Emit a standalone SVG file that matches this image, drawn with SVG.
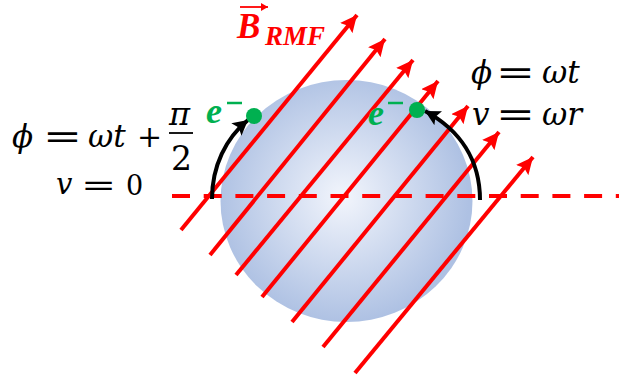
<svg xmlns="http://www.w3.org/2000/svg" width="619" height="377" viewBox="0 0 619 377">
<style>
.m{font-family:"DejaVu Serif","Liberation Serif",serif;font-style:italic;fill:#000}
.n{font-family:"DejaVu Serif","Liberation Serif",serif;font-style:normal;fill:#000}
.g{font-family:"Liberation Serif",serif;font-style:italic;font-weight:bold;fill:#00B050}
.r{font-family:"Liberation Serif",serif;font-style:italic;font-weight:bold;fill:#FF0000}
.field{stroke:#FF0000;stroke-width:4;fill:none}
.arc{stroke:#000;stroke-width:4;fill:none}
</style>
<defs>
<radialGradient id="sph" cx="343" cy="197" r="126" gradientUnits="userSpaceOnUse">
<stop offset="0" stop-color="#F2F5FC"/>
<stop offset="1" stop-color="#AEC1E3"/>
</radialGradient>
<marker id="ra" markerUnits="userSpaceOnUse" markerWidth="18" markerHeight="16" refX="17" refY="8" orient="auto">
<path d="M0,0 L17,8 L0,16 L3,8 z" fill="#FF0000"/>
</marker>
<marker id="ka" markerUnits="userSpaceOnUse" markerWidth="16" markerHeight="16" refX="15" refY="8" orient="auto">
<path d="M0,0 L15,8 L0,16 L3,8 z" fill="#000"/>
</marker>
<marker id="sa" markerUnits="userSpaceOnUse" markerWidth="8" markerHeight="8" refX="7" refY="4" orient="auto">
<path d="M0,0 L7,4 L0,8 z" fill="#FF0000"/>
</marker>
</defs>
<g id="sphere">
<ellipse cx="346.5" cy="201" rx="126" ry="121" fill="url(#sph)"/>
</g>
<g id="axis">
<line x1="172" y1="196" x2="619" y2="196" stroke="#FF0000" stroke-width="4" stroke-dasharray="18 13.7"/>
</g>
<g id="connectors">
<line class="field" x1="181" y1="230" x2="357" y2="15" marker-end="url(#ra)"/>
<line class="field" x1="210" y1="255" x2="385" y2="39" marker-end="url(#ra)"/>
<line class="field" x1="236" y1="275" x2="413" y2="60" marker-end="url(#ra)"/>
<line class="field" x1="262" y1="297" x2="438" y2="81" marker-end="url(#ra)"/>
<line class="field" x1="292" y1="322" x2="468" y2="106" marker-end="url(#ra)"/>
<line class="field" x1="323" y1="347" x2="499" y2="132" marker-end="url(#ra)"/>
<line class="field" x1="355" y1="373" x2="533" y2="157" marker-end="url(#ra)"/>
<path class="arc" d="M212,199 C212,166 226,138 248,120" marker-end="url(#ka)"/>
<path class="arc" d="M480,200 C480,160 460,130 425,111" marker-end="url(#ka)"/>
</g>
<g id="electron-left">
<circle cx="254" cy="116" r="8" fill="#00B050"/>
<text class="g" x="206" y="123" font-size="36">e</text>
<line x1="227" y1="103" x2="242" y2="103" stroke="#00B050" stroke-width="2.5"/>
</g>
<g id="electron-right">
<circle cx="417" cy="110" r="8" fill="#00B050"/>
<text class="g" x="368" y="125" font-size="36">e</text>
<line x1="388" y1="103" x2="403" y2="103" stroke="#00B050" stroke-width="2.5"/>
</g>
<g id="label-B">
<line x1="240" y1="7" x2="268" y2="7" stroke="#FF0000" stroke-width="1.8" marker-end="url(#sa)"/>
<text class="r" x="237" y="38" font-size="35">B</text>
<text class="r" x="265" y="45" font-size="27">RMF</text>
</g>
<g id="eq-left">
<text class="m" x="12" y="147" font-size="31">ϕ</text>
<text class="n" transform="translate(43,148) scale(1.55,1.1)" font-size="30">=</text>
<text class="m" x="88" y="147" font-size="31">ωt</text>
<text class="n" x="137" y="147" font-size="30">+</text>
<text class="m" x="169" y="125" font-size="32">π</text>
<line x1="169" y1="133" x2="193" y2="133" stroke="#000" stroke-width="1.8"/>
<text class="n" x="171" y="170" font-size="33">2</text>
<text class="m" x="56" y="194" font-size="29">v</text>
<text class="n" transform="translate(81,195) scale(1.5,1.05)" font-size="28">=</text>
<text class="n" x="126" y="195" font-size="27">0</text>
</g>
<g id="eq-right">
<text class="m" x="471" y="83" font-size="31">ϕ</text>
<text class="n" transform="translate(496,84) scale(1.55,1.1)" font-size="30">=</text>
<text class="m" x="542" y="83" font-size="31">ωt</text>
<text class="m" x="472" y="125" font-size="31">v</text>
<text class="n" transform="translate(496,126) scale(1.55,1.1)" font-size="30">=</text>
<text class="m" x="542" y="125" font-size="31">ωr</text>
</g>
</svg>
